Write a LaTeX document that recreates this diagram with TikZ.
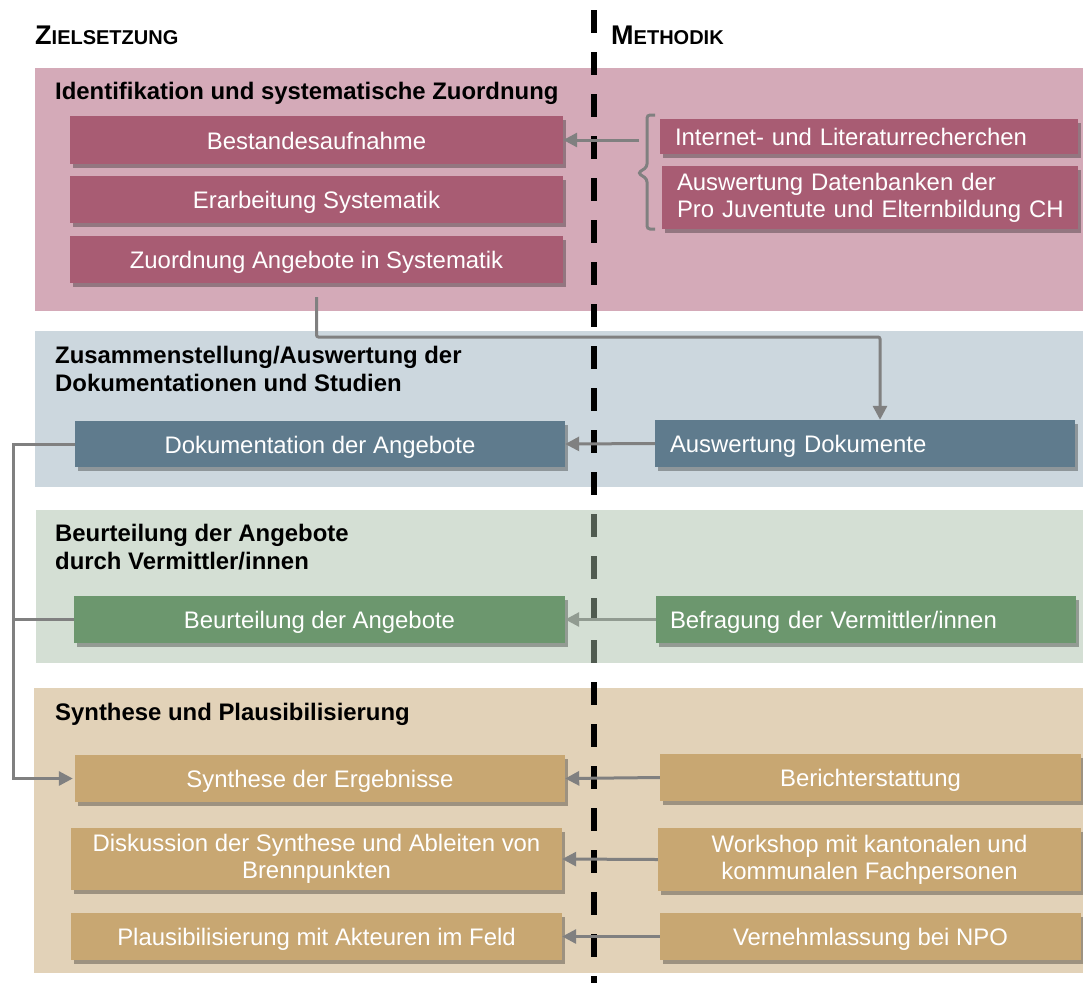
\documentclass[tikz,border=0pt]{standalone}
\usepackage{fontspec}
\setmainfont{Liberation Sans}
\usetikzlibrary{arrows.meta,shadows}
\definecolor{pinkband}{RGB}{212,170,184}
\definecolor{pinkbox}{RGB}{168,92,115}
\definecolor{blueband}{RGB}{204,215,222}
\definecolor{bluebox}{RGB}{95,123,141}
\definecolor{greenband}{RGB}{212,223,212}
\definecolor{greenbox}{RGB}{108,151,110}
\definecolor{tanband}{RGB}{226,210,184}
\definecolor{tanbox}{RGB}{200,167,114}
\definecolor{arrgray}{RGB}{128,128,128}
\definecolor{arrgreen}{RGB}{145,155,145}
\definecolor{dashgreen}{RGB}{80,91,80}
\newcommand\bxfont{\fontsize{23.9}{27}\selectfont}
\newcommand\hdfont{\fontsize{23.9}{28}\selectfont\bfseries}
\tikzset{
  box/.style={rectangle, inner sep=3pt, text=white, font=\bxfont, align=center,
    drop shadow={shadow xshift=3pt, shadow yshift=-4pt, opacity=.3, fill=black}},
  oneline/.style={text height=20pt, text depth=2pt},
  pbox/.style={box, fill=pinkbox},
  bbox/.style={box, fill=bluebox},
  gbox/.style={box, fill=greenbox},
  tbox/.style={box, fill=tanbox},
  heading/.style={anchor=west, inner sep=0pt, font=\hdfont, align=left, text=black},
  colhead/.style={anchor=base west, inner sep=0pt, font=\bfseries, text=black},
  conn/.style={draw=arrgray, line width=3pt},
  arr/.style={conn, -{Triangle[length=14pt,width=14pt]}},
  dashline/.style={line width=6pt, dash pattern=on 23pt off 19pt},
}
\begin{document}
\begin{tikzpicture}[x=1pt,y=-1pt]
\useasboundingbox (0,0) rectangle (1083,983);
% bands
\fill[pinkband] (35,68) rectangle (1083,311);
\fill[blueband] (35,331) rectangle (1083,487);
\fill[greenband] (36,510) rectangle (1083,663);
\fill[tanband] (34,688) rectangle (1083,973);
% dashed divider
\coordinate (dtop) at (593.7,10);
\coordinate (dbot) at (593.7,983);
\draw[dashline, draw=black] (dtop) -- (dbot);
\begin{scope}
  \clip (36,510) rectangle (1083,663);
  \draw[dashline, draw=dashgreen] (dtop) -- (dbot);
\end{scope}
% column headings
\node[colhead] (ziel) at (35,44) {{\fontsize{27}{30}\selectfont Z}{\fontsize{20}{24}\selectfont IELSETZUNG}};
\node[colhead] (meth) at (611,44) {{\fontsize{27}{30}\selectfont M}{\fontsize{20}{24}\selectfont ETHODIK}};
% band headings
\node[heading] (h1) at (55,93) {Identifikation und systematische Zuordnung};
\node[heading] (h2) at (55,369) {Zusammenstellung/Auswertung der\\Dokumentationen und Studien};
\node[heading] (h3) at (55,547.5) {Beurteilung der Angebote\\durch Vermittler/innen};
\node[heading] (h4) at (55,714) {Synthese und Plausibilisierung};
% pink boxes
\node[pbox, oneline, minimum width=493pt, minimum height=48pt] (best) at (316.5,140) {Bestandesaufnahme};
\node[pbox, oneline, minimum width=493pt, minimum height=47pt] (erarb) at (316.5,199.5) {Erarbeitung Systematik};
\node[pbox, oneline, minimum width=493pt, minimum height=47pt] (zuord) at (316.5,259.5) {Zuordnung Angebote in Systematik};
\node[pbox, oneline, minimum height=35pt, inner ysep=1pt, inner xsep=15pt, text width=388pt, align=left] (inet) at (869,136.5) {Internet- und Literaturrecherchen};
\node[pbox, minimum height=63pt, inner xsep=15pt, text width=386pt, align=left] (dbank) at (870,197.5) {\mbox{Auswertung Datenbanken der}\\\mbox{Pro Juventute und Elternbildung CH}};
% blue boxes
\node[bbox, oneline, minimum width=490pt, minimum height=46pt] (dok) at (320,444) {Dokumentation der Angebote};
\node[bbox, oneline, minimum height=47pt, inner xsep=15pt, text width=390pt, align=left] (ausd) at (865,443.5) {Auswertung Dokumente};
% green boxes
\node[gbox, oneline, minimum width=491pt, minimum height=47pt] (beur) at (319.5,619.5) {Beurteilung der Angebote};
\node[gbox, oneline, minimum height=47pt, inner xsep=14pt, text width=392pt, align=left] (befr) at (866,619.5) {Befragung der Vermittler/innen};
% tan boxes
\node[tbox, oneline, minimum width=490pt, minimum height=47pt] (syn) at (320,778.5) {Synthese der Ergebnisse};
\node[tbox, minimum width=491pt, minimum height=62pt] (disk) at (316.5,859) {Diskussion der Synthese und Ableiten von\\Brennpunkten};
\node[tbox, oneline, minimum width=491pt, minimum height=47pt] (plaus) at (316.5,936.5) {Plausibilisierung mit Akteuren im Feld};
\node[tbox, oneline, minimum width=421pt, minimum height=47pt] (ber) at (870.5,777.5) {Berichterstattung};
\node[tbox, minimum width=423pt, minimum height=63pt] (work) at (869.5,859.5) {Workshop mit kantonalen und\\kommunalen Fachpersonen};
\node[tbox, oneline, minimum width=421pt, minimum height=47pt] (vern) at (870.5,936.5) {Vernehmlassung bei NPO};
% brace
\draw[conn, rounded corners=3pt] (655,115) -- (647,115) -- (647,167) -- (638,173) -- (647,179) -- (647,229) -- (655,229);
\coordinate (brarr) at (639,140);
\draw[arr] (brarr) -- (best.east);
% connector from Zuordnung to Auswertung Dokumente
\coordinate (zstart) at (316.5,297);
\coordinate (zturn) at (880,337);
\draw[arr, rounded corners=2pt] (zstart) |- (zturn) -- (zturn |- ausd.north);
% horizontal arrows
\draw[arr] (ausd.west) -- (dok.east);
\draw[arr, draw=arrgreen] (befr.west) -- (beur.east);
\draw[arr] (ber.west) -- (syn.east);
\draw[arr] (work.west) -- (disk.east);
\draw[arr] (vern.west) -- (plaus.east);
% left connector
\coordinate (lx) at (13,444);
\draw[arr, shorten >=2pt] (dok.west) -- (lx) |- (syn.west);
\draw[conn] (beur.west) -- (beur.west -| lx);
\end{tikzpicture}
\end{document}
